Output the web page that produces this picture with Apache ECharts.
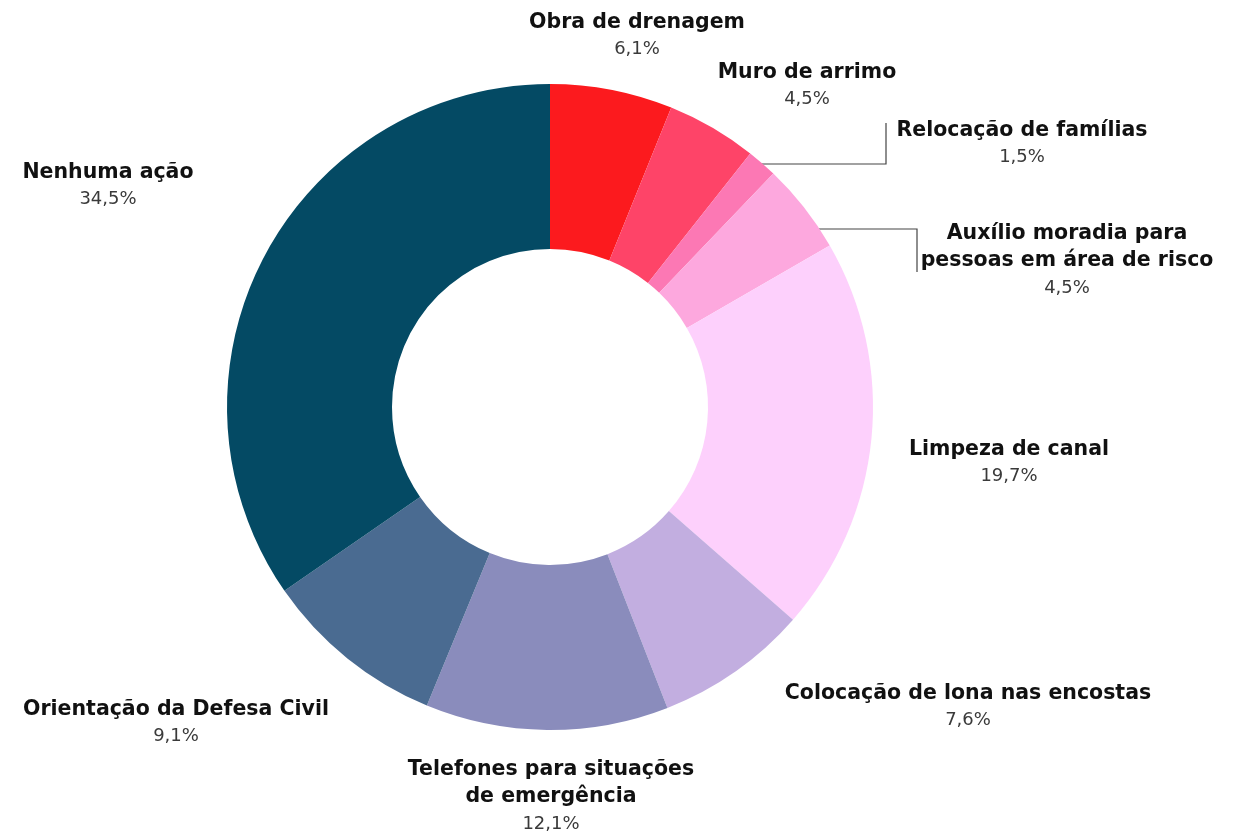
<!DOCTYPE html>
<html>
<head>
<meta charset="utf-8">
<script src="https://cdn.jsdelivr.net/npm/echarts@6/dist/echarts.min.js"></script>
<style>
html,body{margin:0;padding:0;background:#fff;}
#c{width:1236px;height:834px;}
</style>
</head>
<body>
<div id="c"></div>
<script>
const categories = [
  'Obra de drenagem',
  'Muro de arrimo',
  'Relocação de famílias',
  'Auxílio moradia para\npessoas em área de risco',
  'Limpeza de canal',
  'Colocação de lona nas encostas',
  'Telefones para situações\nde emergência',
  'Orientação da Defesa Civil',
  'Nenhuma ação'
];
const values = [6.1, 4.5, 1.5, 4.5, 19.7, 7.6, 12.1, 9.1, 34.5];
const valueLabels = ['6,1%', '4,5%', '1,5%', '4,5%', '19,7%', '7,6%', '12,1%', '9,1%', '34,5%'];

const colors = ['#fc1a1e', '#fe4468', '#fc78b4', '#fda8de', '#fdd0fc', '#c2aee0', '#8a8cbc', '#4a6b91', '#044a64'];
// label block centres (layout only)
const labelPos = [
  [637, 36], [807, 86], [1022, 144], [1067, 261], [1009, 463],
  [968, 707], [551, 797], [176, 723], [108, 186]
];
const leaderLines = {
  2: [[755, 164], [886, 164], [886, 123]],
  3: [[767, 229], [917, 229], [917, 272]]
};

const chart = echarts.init(document.getElementById('c'), null, {renderer: 'canvas'});
const FONT = '"DejaVu Sans", sans-serif';

chart.setOption({
  backgroundColor: '#ffffff',
  animation: false,
  series: [{
    type: 'pie',
    center: [550, 407],
    radius: [158, 323],
    startAngle: 90,
    clockwise: true,
    avoidLabelOverlap: false,
    data: categories.map((c, i) => ({
      name: c,
      value: values[i],
      itemStyle: {color: colors[i]},
      labelLine: {show: !!leaderLines[i]}
    })),
    label: {
      show: true,
      formatter: p => {
        const lines = p.name.split('\n').map(l => '{n|' + l + '}');
        return lines.join('\n') + '\n{v|' + valueLabels[p.dataIndex] + '}';
      },
      rich: {
        n: {fontFamily: FONT, fontWeight: 700, fontSize: 20.5, color: '#111111', lineHeight: 27, align: 'center'},
        v: {fontFamily: FONT, fontWeight: 400, fontSize: 18, color: '#3a3a3a', lineHeight: 27, align: 'center'}
      }
    },
    labelLine: {
      show: false,
      lineStyle: {color: '#444444', width: 1.2}
    },
    labelLayout: function (params) {
      const i = params.dataIndex;
      const res = {
        x: labelPos[i][0],
        y: labelPos[i][1],
        align: 'center',
        verticalAlign: 'middle'
      };
      if (leaderLines[i]) res.labelLinePoints = leaderLines[i];
      return res;
    }
  }]
});
</script>
</body>
</html>
